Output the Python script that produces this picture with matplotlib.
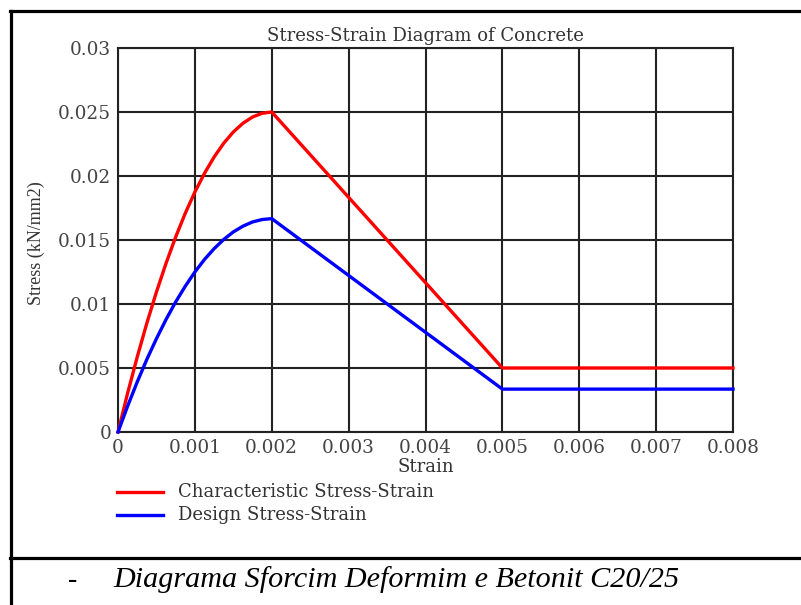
import matplotlib
matplotlib.use("Agg")
import matplotlib.pyplot as plt
from matplotlib.lines import Line2D

# Data
strain = [0.0, 0.000125, 0.00025, 0.000375, 0.0005, 0.000625, 0.00075, 0.000875, 0.001,
          0.001125, 0.00125, 0.001375, 0.0015, 0.001625, 0.00175, 0.001875, 0.002, 0.005, 0.008]
stress_char = [0.0, 0.00303, 0.00586, 0.0085, 0.01094, 0.01318, 0.01523, 0.01709, 0.01875,
               0.02021, 0.02148, 0.02256, 0.02344, 0.02412, 0.02461, 0.0249, 0.025, 0.005, 0.005]
stress_design = [0.0, 0.00202, 0.00391, 0.00567, 0.00729, 0.00879, 0.01016, 0.01139, 0.0125,
                 0.01348, 0.01432, 0.01504, 0.01563, 0.01608, 0.01641, 0.0166, 0.01667, 0.00335, 0.00335]
xticks = [0, 0.001, 0.002, 0.003, 0.004, 0.005, 0.006, 0.007, 0.008]
xtick_labels = ["0", "0.001", "0.002", "0.003", "0.004", "0.005", "0.006", "0.007", "0.008"]
yticks = [0, 0.005, 0.01, 0.015, 0.02, 0.025, 0.03]
ytick_labels = ["0", "0.005", "0.01", "0.015", "0.02", "0.025", "0.03"]

W, H = 801, 605
fig = plt.figure(figsize=(W / 100, H / 100), dpi=100)
ax = fig.add_axes([118 / W, 1 - 432 / H, (733 - 118) / W, (432 - 48) / H])

serif = "DejaVu Serif"
ax.plot(strain, stress_char, color="#ff0000", lw=2.4, solid_joinstyle="round", clip_on=False, zorder=3)
ax.plot(strain, stress_design, color="#0000ff", lw=2.4, solid_joinstyle="round", clip_on=False, zorder=3)

ax.set_xlim(0, 0.008)
ax.set_ylim(0, 0.03)
ax.set_xticks(xticks)
ax.set_xticklabels(xtick_labels, fontfamily=serif, fontsize=13.3, color="#444444")
ax.set_yticks(yticks)
ax.set_yticklabels(ytick_labels, fontfamily=serif, fontsize=13.3, color="#444444")
ax.tick_params(length=0, pad=5)
ax.grid(True, color="#222222", lw=1.5)
for s in ax.spines.values():
    s.set_color("#222222")
    s.set_linewidth(1.5)

ax.set_title("Stress-Strain Diagram of Concrete", fontfamily=serif, fontsize=13, color="#333333", pad=5)
ax.set_xlabel("Strain", fontfamily=serif, fontsize=13, color="#333333", labelpad=1)
fig.text(36 / W, 1 - 243 / H, "Stress (kN/mm2)", rotation=90, ha="center", va="center",
         fontfamily="Liberation Serif", fontsize=13, color="#333333")

# legend
for yy, col, lab in [(492, "#ff0000", "Characteristic Stress-Strain"),
                     (515, "#0000ff", "Design Stress-Strain")]:
    fig.add_artist(Line2D([117 / W, 163 / W], [1 - yy / H, 1 - yy / H], color=col, lw=2.4))
    fig.text(178 / W, 1 - yy / H, lab, ha="left", va="center", fontfamily=serif, fontsize=13, color="#333333")

# border lines
lw_b = 2.3
fig.add_artist(Line2D([10.5 / W, 10.5 / W], [0, 1 - 11 / H], color="black", lw=lw_b))
fig.add_artist(Line2D([10 / W, 1], [1 - 11 / H, 1 - 11 / H], color="black", lw=lw_b))
fig.add_artist(Line2D([10 / W, 1], [1 - 558 / H, 1 - 558 / H], color="black", lw=lw_b))

fig.text(73 / W, 1 - 580 / H, "-", ha="center", va="center", fontfamily="Liberation Serif", fontsize=20)
fig.text(113 / W, 1 - 580 / H, "Diagrama Sforcim Deformim e Betonit C20/25", ha="left", va="center",
         fontfamily="Liberation Serif", style="italic", fontsize=21.7)

fig.savefig("out.png", dpi=100)
